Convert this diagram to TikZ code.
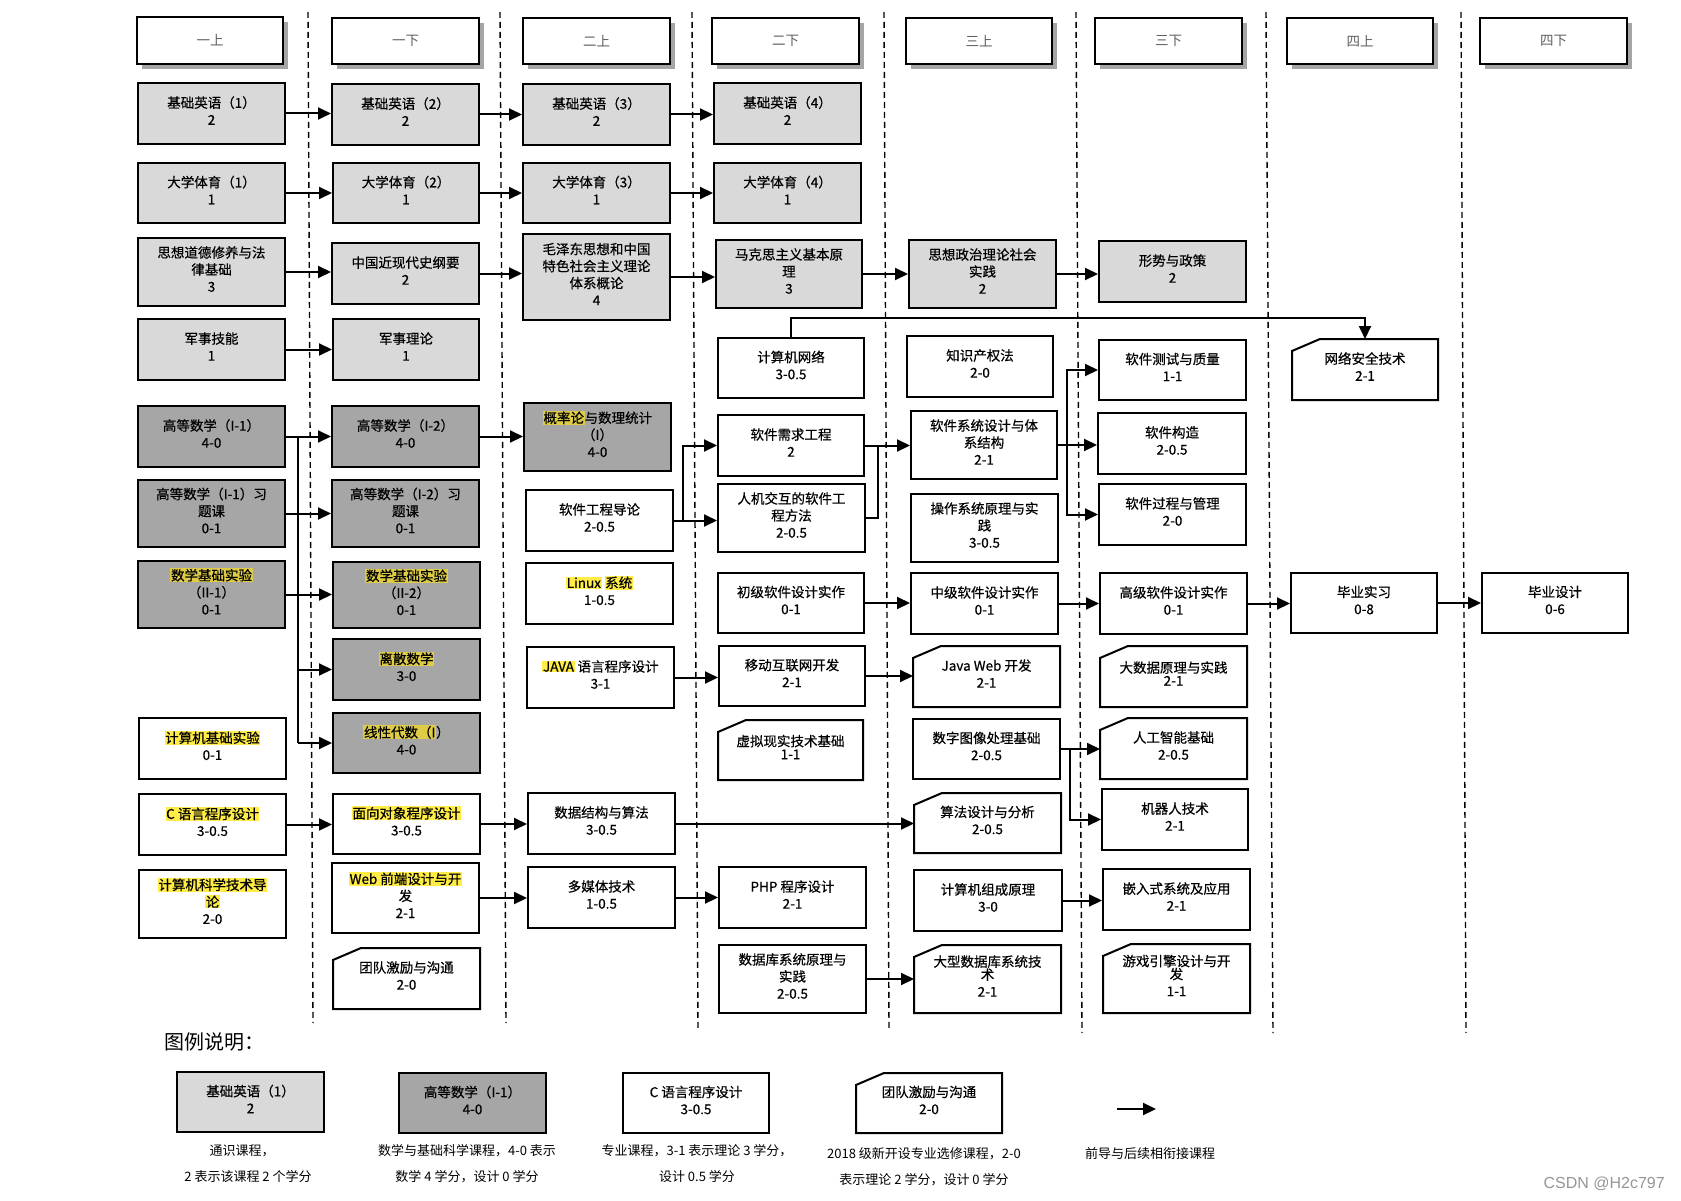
\documentclass[tikz,border=0pt]{standalone}
\usepackage{fontspec}
\usepackage{xcolor}
\setmainfont{Noto Sans CJK SC}
\newfontfamily\boxfam[FakeBold=0.5]{Noto Sans CJK SC}
\newfontfamily\wmfont{Liberation Sans}
\usetikzlibrary{arrows.meta}
\definecolor{lgray}{RGB}{217,217,217}
\definecolor{dgray}{RGB}{166,166,166}
\definecolor{hly}{RGB}{255,236,70}
\definecolor{hlg}{RGB}{222,204,70}
\definecolor{shadowc}{RGB}{165,165,165}
\definecolor{hgray}{RGB}{95,95,95}
\definecolor{wmgray}{RGB}{150,150,150}
\newcommand\boxfont{\boxfam\fontsize{13.5}{17}\selectfont}
\newcommand\hdrfont{\fontsize{13.5}{17}\selectfont}
\newcommand\legfont{\fontsize{13}{16}\selectfont}
\newcommand\hlw[1]{{\setlength{\fboxsep}{0.6pt}\colorbox{hly}{#1}}}
\newcommand\hlgr[1]{{\setlength{\fboxsep}{0.6pt}\colorbox{hlg}{#1}}}
\tikzset{
 boxbase/.style={draw, line width=2pt, inner sep=0pt},
 lgbox/.style={boxbase, fill=lgray},
 dgbox/.style={boxbase, fill=dgray},
 wbox/.style={boxbase, fill=white},
 cutb/.style={inner sep=0pt, outer sep=0pt},
 btext/.style={inner sep=0pt, align=center, font=\boxfont},
 hdrb/.style={draw, line width=1.2pt, fill=white, inner sep=0pt, font=\hdrfont, text=hgray},
 arr/.style={line width=2pt, -{Triangle[length=13pt,width=12pt]}},
 lnk/.style={line width=2pt},
 vsep/.style={line width=1.4pt, dash pattern=on 6pt off 4pt},
 legtxt/.style={font=\legfont, inner sep=0pt, align=center},
}
\newcommand\Bx[7]{\node[#1, minimum width={#5-#3}, minimum height={#6-#4}] (#2) at ({(#3+#5)/2},{(#4+#6)/2}) {};
 \node[btext] (#2t) at ([yshift=3pt]#2.center) {#7};}
\newcommand\Cx[6]{\node[cutb, minimum width={#4-#2}, minimum height={#5-#3}] (#1) at ({(#2+#4)/2},{(#3+#5)/2}) {};
 \draw[line width=2pt, line join=miter] ([yshift=-12pt]#1.north west) -- ([xshift=28pt]#1.north west) -- (#1.north east) -- (#1.south east) -- (#1.south west) -- cycle;
 \node[btext] (#1t) at ([yshift=3pt]#1.center) {#6};}
\newcommand\Hd[6]{\fill[shadowc] ({#2+5},{#3+5}) rectangle ({#4+5},{#5+5});
 \node[hdrb, minimum width={#4-#2}, minimum height={#5-#3}] (#1) at ({(#2+#4)/2},{(#3+#5)/2}) {#6};}
\begin{document}
\begin{tikzpicture}[x=1pt,y=-1pt]
\useasboundingbox[fill=white] (0,0) rectangle (1681,1201);
% semester separators
\draw[vsep] (308,12) -- (313,1023);
\draw[vsep] (500,12) -- (506,1023);
\draw[vsep] (692,12) -- (698,1028);
\draw[vsep] (884,12) -- (889,1029);
\draw[vsep] (1076,12) -- (1082,1033);
\draw[vsep] (1266,12) -- (1273,1033);
\draw[vsep] (1461,12) -- (1466,1033);
% headers
\Hd{h1}{137}{17}{283}{64}{一上}
\Hd{h2}{332}{18}{479}{64}{一下}
\Hd{h3}{523}{18}{670}{64}{二上}
\Hd{h4}{712}{18}{859}{64}{二下}
\Hd{h5}{906}{18}{1052}{64}{三上}
\Hd{h6}{1095}{18}{1242}{64}{三下}
\Hd{h7}{1287}{18}{1433}{64}{四上}
\Hd{h8}{1480}{18}{1627}{64}{四下}
% column 1
\Bx{lgbox}{e1}{138}{83}{285}{144}{基础英语（1）\\2}
\Bx{lgbox}{p1}{138}{163}{285}{223}{大学体育（1）\\1}
\Bx{lgbox}{s1}{138}{238}{285}{306}{思想道德修养与法\\律基础\\3}
\Bx{lgbox}{m1}{138}{319}{285}{380}{军事技能\\1}
\Bx{dgbox}{a1}{138}{406}{285}{467}{高等数学（I-1）\\4-0}
\Bx{dgbox}{a1x}{138}{480}{285}{547}{高等数学（I-1）习\\题课\\0-1}
\Bx{dgbox}{b1}{138}{561}{285}{628}{\hlgr{数学基础实验}\\（II-1）\\0-1}
\Bx{wbox}{c1}{139}{718}{286}{779}{\hlw{计算机基础实验}\\0-1}
\Bx{wbox}{cl}{139}{794}{286}{855}{\hlw{C 语言程序设计}\\3-0.5}
\Bx{wbox}{cs}{139}{870}{286}{938}{\hlw{计算机科学技术导}\\\hlw{论}\\2-0}
% column 2
\Bx{lgbox}{e2}{332}{84}{479}{145}{基础英语（2）\\2}
\Bx{lgbox}{p2}{333}{163}{479}{223}{大学体育（2）\\1}
\Bx{lgbox}{s2}{332}{243}{479}{304}{中国近现代史纲要\\2}
\Bx{lgbox}{m2}{333}{319}{479}{380}{军事理论\\1}
\Bx{dgbox}{a2}{332}{406}{479}{467}{高等数学（I-2）\\4-0}
\Bx{dgbox}{a2x}{332}{480}{479}{547}{高等数学（I-2）习\\题课\\0-1}
\Bx{dgbox}{b2}{333}{562}{480}{628}{\hlgr{数学基础实验}\\（II-2）\\0-1}
\Bx{dgbox}{ds}{333}{639}{480}{700}{\hlgr{离散数学}\\3-0}
\Bx{dgbox}{la}{333}{713}{480}{773}{\hlgr{线性代数（I}）\\4-0}
\Bx{wbox}{oo}{333}{794}{480}{854}{\hlw{面向对象程序设计}\\3-0.5}
\Bx{wbox}{wf}{332}{863}{479}{933}{\hlw{Web 前端设计与开}\\发\\2-1}
\Cx{td}{333}{948}{480}{1009}{团队激励与沟通\\2-0}
% column 3
\Bx{lgbox}{e3}{523}{84}{670}{145}{基础英语（3）\\2}
\Bx{lgbox}{p3}{523}{163}{670}{223}{大学体育（3）\\1}
\Bx{lgbox}{s3}{523}{234}{670}{320}{毛泽东思想和中国\\特色社会主义理论\\体系概论\\4}
\Bx{dgbox}{gl}{524}{403}{671}{471}{\hlgr{概率论}与数理统计\\（I）\\4-0}
\Bx{wbox}{se}{526}{490}{673}{551}{软件工程导论\\2-0.5}
\Bx{wbox}{lx}{526}{563}{673}{624}{\hlw{Linux} \hlw{系统}\\1-0.5}
\Bx{wbox}{jv}{527}{647}{674}{708}{\hlw{JAVA} 语言程序设计\\3-1}
\Bx{wbox}{dsa}{528}{793}{675}{854}{数据结构与算法\\3-0.5}
\Bx{wbox}{mm}{528}{867}{675}{928}{多媒体技术\\1-0.5}
% column 4
\Bx{lgbox}{e4}{714}{83}{861}{144}{基础英语（4）\\2}
\Bx{lgbox}{p4}{714}{163}{861}{223}{大学体育（4）\\1}
\Bx{lgbox}{s4}{716}{240}{862}{308}{马克思主义基本原\\理\\3}
\Bx{wbox}{cn}{718}{338}{864}{398}{计算机网络\\3-0.5}
\Bx{wbox}{re}{718}{415}{864}{476}{软件需求工程\\2}
\Bx{wbox}{hc}{718}{484}{865}{552}{人机交互的软件工\\程方法\\2-0.5}
\Bx{wbox}{jr}{718}{573}{864}{633}{初级软件设计实作\\0-1}
\Bx{wbox}{mo}{719}{646}{865}{706}{移动互联网开发\\2-1}
\Cx{vr}{718}{720}{863}{780}{虚拟现实技术基础\\[-4pt]1-1}
\Bx{wbox}{php}{719}{867}{866}{928}{PHP 程序设计\\2-1}
\Bx{wbox}{db}{719}{945}{866}{1013}{数据库系统原理与\\实践\\2-0.5}
% column 5
\Bx{lgbox}{s5}{909}{240}{1056}{308}{思想政治理论社会\\实践\\2}
\Bx{wbox}{ip}{907}{336}{1053}{397}{知识产权法\\2-0}
\Bx{wbox}{sa}{911}{411}{1057}{479}{软件系统设计与体\\系结构\\2-1}
\Bx{wbox}{os}{911}{494}{1058}{562}{操作系统原理与实\\践\\3-0.5}
\Bx{wbox}{md}{911}{573}{1058}{634}{中级软件设计实作\\0-1}
\Cx{jw}{913}{646}{1060}{707}{Java Web 开发\\2-1}
\Bx{wbox}{di}{913}{719}{1060}{779}{数字图像处理基础\\2-0.5}
\Cx{al}{914}{793}{1061}{853}{算法设计与分析\\2-0.5}
\Bx{wbox}{co}{914}{870}{1062}{931}{计算机组成原理\\3-0}
\Cx{ldb}{914}{945}{1061}{1013}{大型数据库系统技\\[-4pt]术\\2-1}
% column 6
\Bx{lgbox}{s6}{1099}{241}{1246}{302}{形势与政策\\2}
\Bx{wbox}{st}{1099}{340}{1246}{400}{软件测试与质量\\1-1}
\Bx{wbox}{sc}{1098}{413}{1246}{474}{软件构造\\2-0.5}
\Bx{wbox}{sp}{1099}{484}{1246}{545}{软件过程与管理\\2-0}
\Bx{wbox}{ad}{1100}{573}{1247}{634}{高级软件设计实作\\0-1}
\Cx{bd}{1100}{646}{1247}{707}{大数据原理与实践\\[-4pt]2-1}
\Cx{ai}{1100}{718}{1247}{779}{人工智能基础\\2-0.5}
\Bx{wbox}{rb}{1102}{789}{1248}{850}{机器人技术\\2-1}
\Bx{wbox}{em}{1103}{869}{1250}{930}{嵌入式系统及应用\\2-1}
\Cx{ge}{1103}{944}{1250}{1013}{游戏引擎设计与开\\[-4pt]发\\1-1}
% column 7, 8
\Cx{ns}{1292}{339}{1438}{400}{网络安全技术\\2-1}
\Bx{wbox}{in}{1291}{573}{1437}{633}{毕业实习\\0-8}
\Bx{wbox}{gd}{1482}{573}{1628}{633}{毕业设计\\0-6}
% bus coordinates
\coordinate (bxa) at (298,0);
\coordinate (bxb) at (683,0);
\coordinate (bxc) at (878,0);
\coordinate (bxd) at (1067,0);
\coordinate (bxe) at (1070,0);
\coordinate (topy) at (0,318);
% connectors
\foreach \s/\t in {e1/e2,e2/e3,e3/e4,p1/p2,p2/p3,p3/p4,s1/s2,s2/s3,s3/s4,s4/s5,s5/s6,m1/m2,
 a1/a2,a1x/a2x,b1/b2,a2/gl,se/hc,re/sa,sa/sc,jr/md,md/ad,ad/in,in/gd,jv/mo,mo/jw,di/ai,
 cl/oo,oo/dsa,dsa/al,wf/mm,mm/php,db/ldb,co/em}
 {\draw[arr] (\s.east) -- (\s.east -| \t.west);}
\draw[lnk] (a1.east -| bxa) -- (la.west -| bxa);
\draw[arr] (ds.west -| bxa) -- (ds.west);
\draw[arr] (la.west -| bxa) -- (la.west);
\draw[arr] (se.east -| bxb) |- (re.west);
\draw[lnk] (hc.east) -| (re.east -| bxc);
\draw[arr] (sa.east -| bxd) |- (st.west);
\draw[arr] (sa.east -| bxd) |- (sp.west);
\draw[arr] (di.east -| bxe) |- (rb.west);
\draw[arr] (cn.north) -- (cn.north |- topy) -| (ns.north);
% legend
\node[anchor=west, font=\fontsize{20}{24}\selectfont, inner sep=0pt] (lgt) at (164,1042) {图例说明：};
\Bx{lgbox}{lg1}{177}{1072}{324}{1132}{基础英语（1）\\2}
\Bx{dgbox}{lg2}{399}{1073}{546}{1133}{高等数学（I-1）\\4-0}
\Bx{wbox}{lg3}{623}{1073}{769}{1133}{C 语言程序设计\\3-0.5}
\Cx{lg4}{856}{1073}{1002}{1133}{团队激励与沟通\\2-0}
\coordinate (lga) at (1117,1109);
\coordinate (lgb) at (1156,1109);
\draw[arr] (lga) -- (lgb);
\node[legtxt] (t1a) at (242,1151) {通识课程，};
\node[legtxt] (t1b) at (248,1177) {2 表示该课程 2 个学分};
\node[legtxt] (t2a) at (467,1151) {数学与基础科学课程，4-0 表示};
\node[legtxt] (t2b) at (467,1177) {数学 4 学分，设计 0 学分};
\node[legtxt] (t3a) at (697,1151) {专业课程，3-1 表示理论 3 学分，};
\node[legtxt] (t3b) at (697,1177) {设计 0.5 学分};
\node[legtxt] (t4a) at (924,1154) {2018 级新开设专业选修课程，2-0};
\node[legtxt] (t4b) at (924,1180) {表示理论 2 学分，设计 0 学分};
\node[legtxt] (t5) at (1150,1154) {前导与后续相衔接课程};
\node[anchor=east, inner sep=0pt, font=\wmfont\fontsize{16}{18}\selectfont, text=wmgray] (wm) at (1665,1184) {CSDN @H2c797};
\end{tikzpicture}
\end{document}
